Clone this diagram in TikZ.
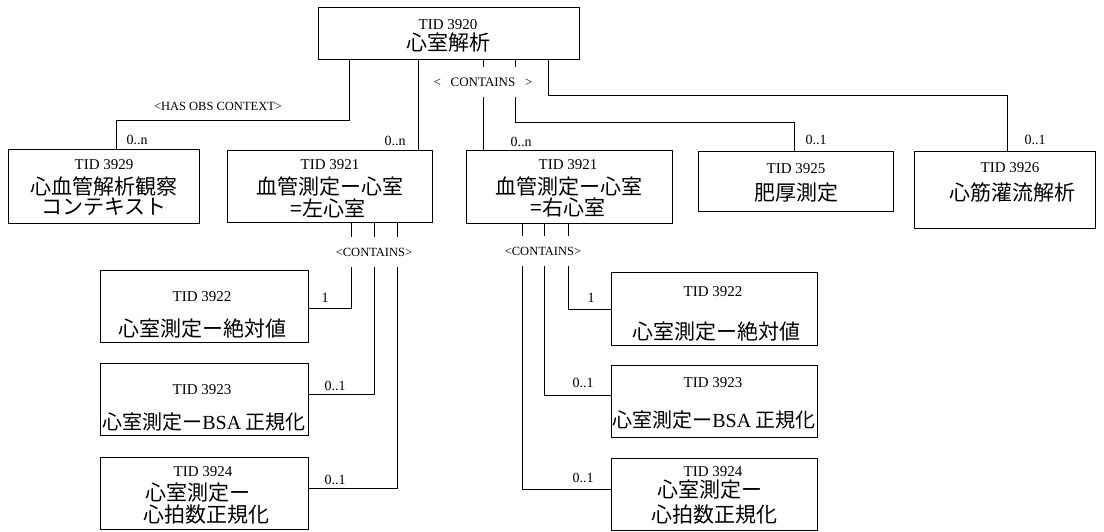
\documentclass[tikz,border=0pt]{standalone}
\usepackage{fontspec}
\setmainfont{Liberation Serif}
\newfontfamily\jfont{Noto Sans CJK JP}
\tikzset{
  tidbox/.style={draw, line width=1.2pt, inner sep=0pt, anchor=north west},
  tid/.style={font=\fontsize{15}{15}\selectfont, inner sep=0pt},
  jp/.style={font=\jfont\fontsize{21}{21}\selectfont, inner sep=0pt},
  mult/.style={font=\fontsize{14}{14}\selectfont, inner sep=0pt},
  rel/.style={font=\fontsize{12.5}{12.5}\selectfont, inner sep=0pt},
  link/.style={line width=1pt},
}
\begin{document}
\begin{tikzpicture}[x=1pt,y=-1pt]
\useasboundingbox (0,0) rectangle (1104,531);
\node[tidbox, minimum width=261pt, minimum height=52pt] (vent) at (318,7) {};
\node[tid] (ventid) at (448,25) {TID 3920};
\node[jp] (ventname) at (448,43) {心室解析};
\node[tidbox, minimum width=191pt, minimum height=74pt] (obsctx) at (8,149) {};
\node[tid] (obsctxid) at (104,165) {TID 3929};
\node[jp] (obsctxname) at (104,186) {心血管解析観察};
\node[jp] (obsctxsub) at (104,207) {コンテキスト};
\node[tidbox, minimum width=205pt, minimum height=72pt] (lvent) at (227,150) {};
\node[tid] (lventid) at (330,165) {TID 3921};
\node[jp] (lventname) at (330,187) {血管測定ー心室};
\node[jp] (lventsub) at (328,208) {=左心室};
\node[tidbox, minimum width=206pt, minimum height=73pt] (rvent) at (466,150) {};
\node[tid] (rventid) at (568,165) {TID 3921};
\node[jp] (rventname) at (569,187) {血管測定ー心室};
\node[jp] (rventsub) at (568,208) {=右心室};
\node[tidbox, minimum width=195pt, minimum height=60pt] (hypert) at (698,151) {};
\node[tid] (hypertid) at (796,169) {TID 3925};
\node[jp] (hypertname) at (796,193) {肥厚測定};
\node[tidbox, minimum width=181pt, minimum height=77pt] (perf) at (914,151) {};
\node[tid] (perfid) at (1010,168) {TID 3926};
\node[jp] (perfname) at (1012,193) {心筋灌流解析};
\node[tidbox, minimum width=208pt, minimum height=72pt] (labs) at (100,270) {};
\node[tid] (labsid) at (202,297) {TID 3922};
\node[jp] (labsname) at (202,329) {心室測定ー絶対値};
\node[tidbox, minimum width=208pt, minimum height=72pt] (lbsa) at (100,363) {};
\node[tid] (lbsaid) at (202,390) {TID 3923};
\node[jp, font=\jfont\fontsize{20}{20}\selectfont] (lbsaname) at (204,422) {心室測定ー{\rmfamily BSA} 正規化};
\node[tidbox, minimum width=208pt, minimum height=72pt] (lhr) at (100,457) {};
\node[tid] (lhrid) at (203,472) {TID 3924};
\node[jp] (lhrname) at (198,493) {心室測定ー};
\node[jp] (lhrsub) at (206,515) {心拍数正規化};
\node[tidbox, minimum width=206pt, minimum height=73pt] (rabs) at (611,272) {};
\node[tid] (rabsid) at (713,292) {TID 3922};
\node[jp] (rabsname) at (716,332) {心室測定ー絶対値};
\node[tidbox, minimum width=206pt, minimum height=72pt] (rbsa) at (611,365) {};
\node[tid] (rbsaid) at (713,383) {TID 3923};
\node[jp, font=\jfont\fontsize{20}{20}\selectfont] (rbsaname) at (714,420) {心室測定ー{\rmfamily BSA} 正規化};
\node[tidbox, minimum width=206pt, minimum height=72pt] (rhr) at (611,458) {};
\node[tid] (rhrid) at (713,472) {TID 3924};
\node[jp, fill=white, inner ysep=1pt] (rhrname) at (710,490) {心室測定ー};
\node[jp] (rhrsub) at (714,515) {心拍数正規化};
\node[rel] (hasobs) at (218,106) {<HAS OBS CONTEXT>};
\node[rel, minimum height=29pt, font=\fontsize{13}{13}\selectfont] (cont) at (483,82) {<~~~CONTAINS~~~>};
\node[rel, minimum height=30pt] (lcont) at (374,252) {<CONTAINS>};
\node[rel, minimum height=30pt] (rcont) at (543,251) {<CONTAINS>};
\node[mult] (mobsctx) at (137,140) {0..n};
\node[mult] (mlvent) at (395,141) {0..n};
\node[mult] (mrvent) at (521,142) {0..n};
\node[mult] (mhypert) at (816,140) {0..1};
\node[mult] (mperf) at (1035,140) {0..1};
\node[mult] (mlabs) at (325,298) {1};
\node[mult] (mlbsa) at (335,386) {0..1};
\node[mult] (mlhr) at (335,480) {0..1};
\node[mult] (mrabs) at (591,298) {1};
\node[mult] (mrbsa) at (583,383) {0..1};
\node[mult] (mrhr) at (583,478) {0..1};
\draw[link] (349,0 |- vent.south) |- (116,120) -- (116,0 |- obsctx.north);
\draw[link] (418,0 |- vent.south) -- (418,0 |- lvent.north);
\draw[link] (483,0 |- vent.south) -- (483,0 |- cont.north);
\draw[link] (515,0 |- vent.south) -- (515,0 |- cont.north);
\draw[link] (483,0 |- cont.south) -- (483,0 |- rvent.north);
\draw[link] (515,0 |- cont.south) |- (794,122) -- (794,0 |- hypert.north);
\draw[link] (548,0 |- vent.south) |- (1007,95) -- (1007,0 |- perf.north);
\foreach \x in {351,374,397}
  \draw[link] (\x,0 |- lvent.south) -- (\x,0 |- lcont.north);
\draw[link] (351,0 |- lcont.south) |- (labs.east |- 0,308);
\draw[link] (374,0 |- lcont.south) |- (lbsa.east |- 0,394);
\draw[link] (397,0 |- lcont.south) |- (lhr.east |- 0,488);
\foreach \x in {522,544,568}
  \draw[link] (\x,0 |- rvent.south) -- (\x,0 |- rcont.north);
\draw[link] (568,0 |- rcont.south) |- (rabs.west |- 0,309);
\draw[link] (544,0 |- rcont.south) |- (rbsa.west |- 0,395);
\draw[link] (522,0 |- rcont.south) |- (rhr.west |- 0,489);
\end{tikzpicture}
\end{document}
